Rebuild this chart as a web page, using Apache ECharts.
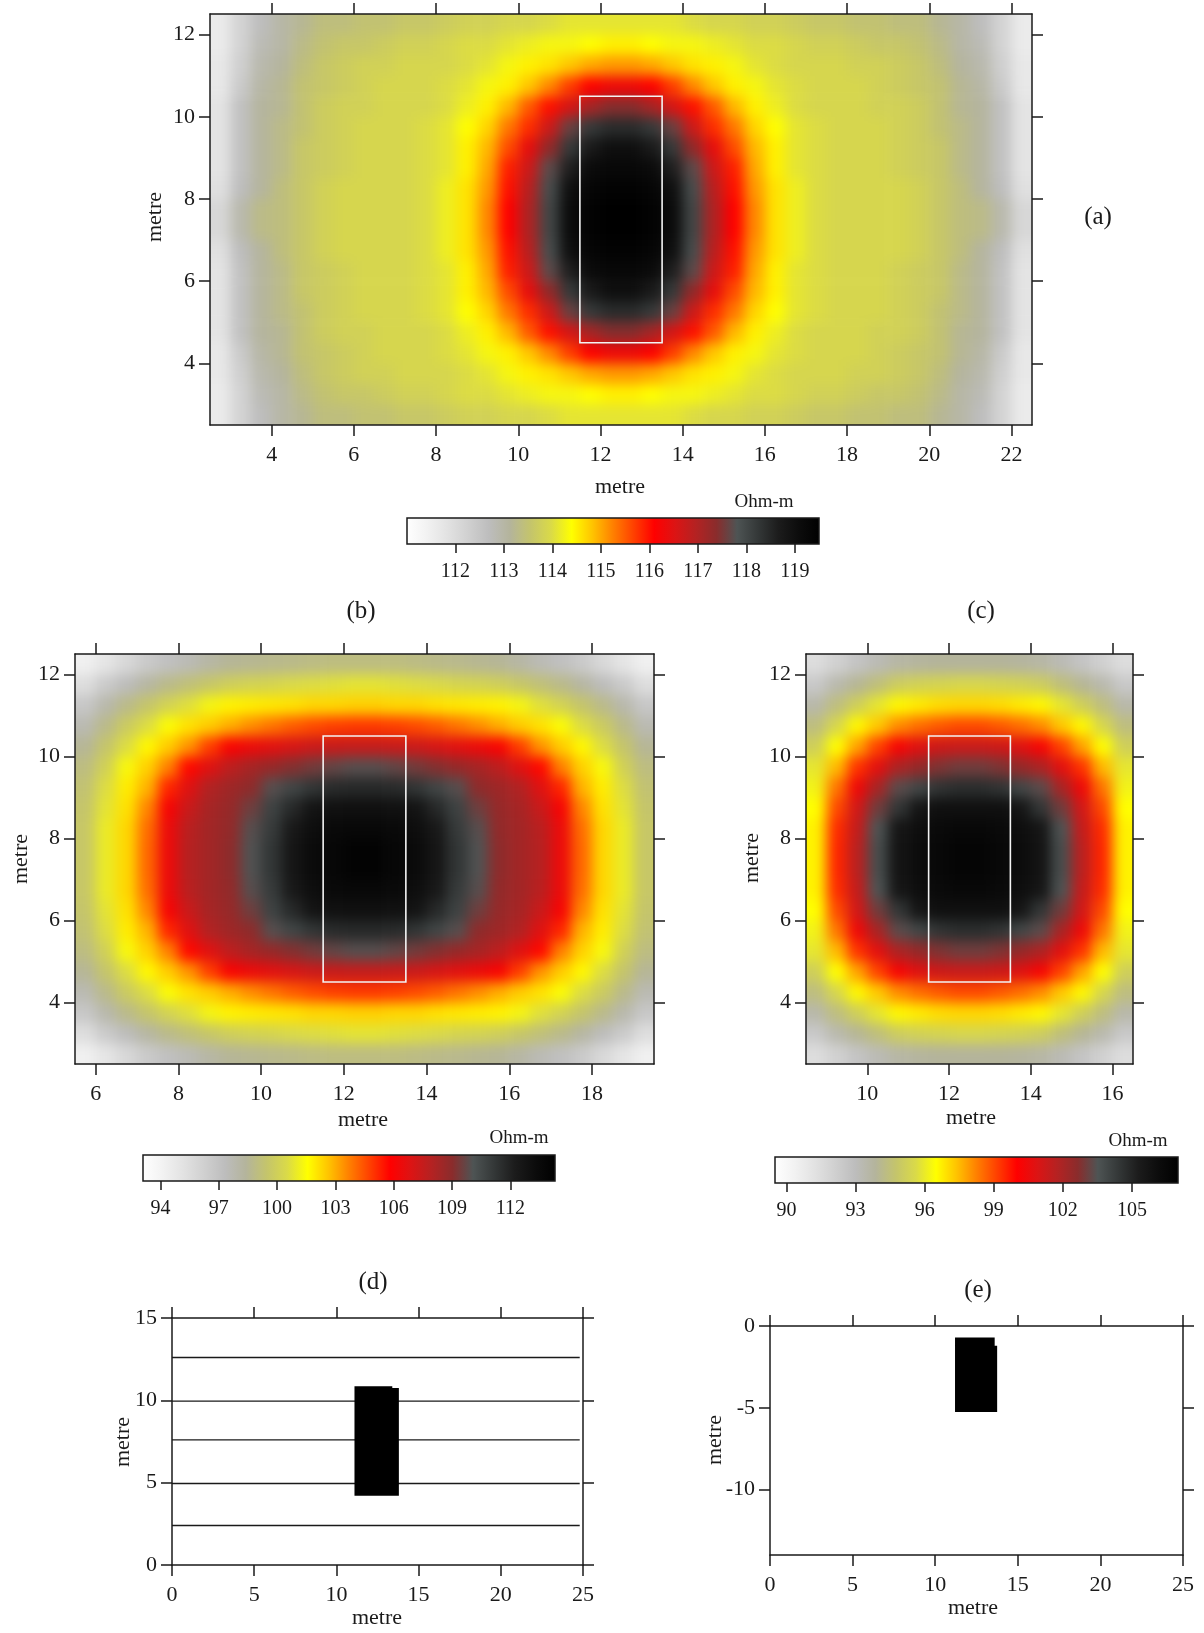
<!DOCTYPE html>
<html><head><meta charset="utf-8">
<script src="https://cdn.jsdelivr.net/npm/echarts@6/dist/echarts.min.js"></script>
<style>html,body{margin:0;padding:0;background:#fff}#c{width:1204px;height:1633px}</style>
</head><body><div id="c"></div>
<script>
// ---------------- data ----------------
// cell-centre positions (metre)
const aX = [2.75,3.25,3.75,4.25,4.75,5.25,5.75,6.25,6.75,7.25,7.75,8.25,8.75,9.25,9.75,10.25,10.75,11.25,11.75,12.25,12.75,13.25,13.75,14.25,14.75,15.25,15.75,16.25,16.75,17.25,17.75,18.25,18.75,19.25,19.75,20.25,20.75,21.25,21.75,22.25];
const bX = [5.75,6.25,6.75,7.25,7.75,8.25,8.75,9.25,9.75,10.25,10.75,11.25,11.75,12.25,12.75,13.25,13.75,14.25,14.75,15.25,15.75,16.25,16.75,17.25,17.75,18.25,18.75,19.25];
const cX = [8.75,9.25,9.75,10.25,10.75,11.25,11.75,12.25,12.75,13.25,13.75,14.25,14.75,15.25,15.75,16.25];
const mapY = [12.25,11.75,11.25,10.75,10.25,9.75,9.25,8.75,8.25,7.75,7.25,6.75,6.25,5.75,5.25,4.75,4.25,3.75,3.25,2.75];

// apparent resistivity (Ohm-m), rows from top (y=12.25) to bottom (y=2.75)
const aRows = [
[111.6,112.2,112.7,113.0,113.2,113.4,113.4,113.5,113.5,113.6,113.6,113.7,113.8,113.8,113.9,113.9,114.0,114.1,114.1,114.1,114.1,114.1,114.1,114.0,113.9,113.9,113.8,113.8,113.7,113.6,113.6,113.5,113.5,113.4,113.4,113.2,113.0,112.7,112.2,111.6],
[111.6,112.2,112.8,113.0,113.3,113.5,113.6,113.6,113.7,113.8,113.8,113.9,114.0,114.0,114.1,114.2,114.3,114.3,114.4,114.5,114.5,114.4,114.3,114.3,114.2,114.1,114.0,114.0,113.9,113.8,113.8,113.7,113.6,113.6,113.5,113.3,113.0,112.8,112.2,111.6],
[111.7,112.3,112.9,113.1,113.4,113.6,113.7,113.8,113.8,113.9,113.9,113.9,114.0,114.1,114.3,114.5,114.6,114.8,115.0,115.1,115.1,115.0,114.8,114.6,114.5,114.3,114.1,114.0,113.9,113.9,113.9,113.8,113.8,113.7,113.6,113.4,113.1,112.9,112.3,111.7],
[111.7,112.4,113.0,113.2,113.5,113.6,113.7,113.8,113.9,113.9,113.9,114.0,114.1,114.3,114.5,114.8,115.2,115.7,116.1,116.3,116.3,116.1,115.7,115.2,114.8,114.5,114.3,114.1,114.0,113.9,113.9,113.9,113.8,113.7,113.6,113.5,113.2,113.0,112.4,111.7],
[111.8,112.6,113.1,113.2,113.5,113.7,113.8,113.8,113.9,113.9,113.9,114.0,114.2,114.5,114.9,115.5,116.0,116.6,117.1,117.4,117.4,117.1,116.6,116.0,115.5,114.9,114.5,114.2,114.0,113.9,113.9,113.9,113.8,113.8,113.7,113.5,113.2,113.1,112.6,111.8],
[111.8,112.6,113.1,113.3,113.5,113.7,113.8,113.9,113.9,113.9,114.0,114.1,114.4,114.7,115.3,115.8,116.7,117.6,118.2,118.4,118.4,118.2,117.6,116.7,115.8,115.3,114.7,114.4,114.1,114.0,113.9,113.9,113.9,113.8,113.7,113.5,113.3,113.1,112.6,111.8],
[111.8,112.6,113.1,113.3,113.6,113.7,113.8,113.9,113.9,113.9,114.0,114.1,114.5,114.9,115.6,116.4,117.3,118.2,118.7,119.0,119.0,118.7,118.2,117.3,116.4,115.6,114.9,114.5,114.1,114.0,113.9,113.9,113.9,113.8,113.7,113.6,113.3,113.1,112.6,111.8],
[111.8,112.6,113.1,113.3,113.6,113.7,113.8,113.9,113.9,113.9,114.0,114.1,114.5,115.0,115.9,116.7,117.7,118.6,119.1,119.2,119.2,119.1,118.6,117.7,116.7,115.9,115.0,114.5,114.1,114.0,113.9,113.9,113.9,113.8,113.7,113.6,113.3,113.1,112.6,111.8],
[111.9,112.7,113.1,113.4,113.6,113.8,113.9,113.9,113.9,113.9,114.0,114.2,114.6,115.1,116.0,116.9,117.9,119.0,119.3,119.4,119.4,119.3,119.0,117.9,116.9,116.0,115.1,114.6,114.2,114.0,113.9,113.9,113.9,113.9,113.8,113.6,113.4,113.1,112.7,111.9],
[112.1,112.9,113.3,113.4,113.6,113.8,113.9,113.9,113.9,113.9,114.0,114.2,114.6,115.2,116.1,117.0,118.0,119.1,119.4,119.5,119.5,119.4,119.1,118.0,117.0,116.1,115.2,114.6,114.2,114.0,113.9,113.9,113.9,113.9,113.8,113.6,113.4,113.3,112.9,112.1],
[112.1,112.9,113.3,113.4,113.6,113.8,113.9,113.9,113.9,113.9,114.0,114.2,114.6,115.2,116.1,117.0,118.0,119.1,119.4,119.5,119.5,119.4,119.1,118.0,117.0,116.1,115.2,114.6,114.2,114.0,113.9,113.9,113.9,113.9,113.8,113.6,113.4,113.3,112.9,112.1],
[111.9,112.7,113.1,113.4,113.6,113.8,113.9,113.9,113.9,113.9,114.0,114.2,114.6,115.1,116.0,116.9,117.9,119.0,119.3,119.4,119.4,119.3,119.0,117.9,116.9,116.0,115.1,114.6,114.2,114.0,113.9,113.9,113.9,113.9,113.8,113.6,113.4,113.1,112.7,111.9],
[111.8,112.6,113.1,113.3,113.6,113.7,113.8,113.9,113.9,113.9,114.0,114.1,114.5,115.0,115.9,116.7,117.7,118.6,119.1,119.2,119.2,119.1,118.6,117.7,116.7,115.9,115.0,114.5,114.1,114.0,113.9,113.9,113.9,113.8,113.7,113.6,113.3,113.1,112.6,111.8],
[111.8,112.6,113.1,113.3,113.6,113.7,113.8,113.9,113.9,113.9,114.0,114.1,114.5,114.9,115.6,116.4,117.3,118.2,118.7,119.0,119.0,118.7,118.2,117.3,116.4,115.6,114.9,114.5,114.1,114.0,113.9,113.9,113.9,113.8,113.7,113.6,113.3,113.1,112.6,111.8],
[111.8,112.6,113.1,113.3,113.5,113.7,113.8,113.9,113.9,113.9,114.0,114.1,114.4,114.7,115.3,115.8,116.7,117.6,118.2,118.4,118.4,118.2,117.6,116.7,115.8,115.3,114.7,114.4,114.1,114.0,113.9,113.9,113.9,113.8,113.7,113.5,113.3,113.1,112.6,111.8],
[111.8,112.6,113.1,113.2,113.5,113.7,113.8,113.8,113.9,113.9,113.9,114.0,114.2,114.5,114.9,115.5,116.0,116.6,117.1,117.4,117.4,117.1,116.6,116.0,115.5,114.9,114.5,114.2,114.0,113.9,113.9,113.9,113.8,113.8,113.7,113.5,113.2,113.1,112.6,111.8],
[111.7,112.4,113.0,113.2,113.5,113.6,113.7,113.8,113.9,113.9,113.9,114.0,114.1,114.3,114.5,114.8,115.2,115.7,116.1,116.3,116.3,116.1,115.7,115.2,114.8,114.5,114.3,114.1,114.0,113.9,113.9,113.9,113.8,113.7,113.6,113.5,113.2,113.0,112.4,111.7],
[111.7,112.3,112.9,113.1,113.4,113.6,113.7,113.8,113.8,113.9,113.9,113.9,114.0,114.1,114.3,114.5,114.6,114.8,115.0,115.1,115.1,115.0,114.8,114.6,114.5,114.3,114.1,114.0,113.9,113.9,113.9,113.8,113.8,113.7,113.6,113.4,113.1,112.9,112.3,111.7],
[111.6,112.2,112.8,113.0,113.3,113.5,113.6,113.6,113.7,113.8,113.8,113.9,114.0,114.0,114.1,114.2,114.3,114.3,114.4,114.5,114.5,114.4,114.3,114.3,114.2,114.1,114.0,114.0,113.9,113.8,113.8,113.7,113.6,113.6,113.5,113.3,113.0,112.8,112.2,111.6],
[111.6,112.2,112.7,113.0,113.2,113.4,113.4,113.5,113.5,113.6,113.6,113.7,113.8,113.8,113.9,113.9,114.0,114.1,114.1,114.1,114.1,114.1,114.1,114.0,113.9,113.9,113.8,113.8,113.7,113.6,113.6,113.5,113.5,113.4,113.4,113.2,113.0,112.7,112.2,111.6]
];
const bRows = [
[94.3,95.0,95.8,96.6,97.2,97.6,98.1,98.5,98.6,98.7,98.8,98.9,99.0,99.0,99.0,99.0,98.9,98.8,98.7,98.6,98.5,98.1,97.6,97.2,96.6,95.8,95.0,94.3],
[95.5,96.6,97.4,98.2,98.8,99.2,99.6,100.0,100.2,100.3,100.5,100.6,100.7,100.8,100.8,100.7,100.6,100.5,100.3,100.2,100.0,99.6,99.2,98.8,98.2,97.4,96.6,95.5],
[96.8,97.9,98.8,99.5,100.2,100.7,101.3,101.8,101.9,102.0,102.1,102.3,102.3,102.4,102.4,102.3,102.3,102.1,102.0,101.9,101.8,101.3,100.7,100.2,99.5,98.8,97.9,96.8],
[97.7,98.8,99.8,100.6,101.5,102.1,102.5,103.0,103.5,103.9,104.3,104.6,104.8,104.9,104.9,104.8,104.6,104.3,103.9,103.5,103.0,102.5,102.1,101.5,100.6,99.8,98.8,97.7],
[98.5,99.5,100.6,101.7,102.5,103.4,104.8,106.0,106.4,106.7,107.0,107.3,107.4,107.5,107.5,107.4,107.3,107.0,106.7,106.4,106.0,104.8,103.4,102.5,101.7,100.6,99.5,98.5],
[99.0,100.1,101.4,102.4,103.7,105.7,106.8,107.7,108.3,108.7,109.1,109.4,109.7,109.9,109.9,109.7,109.4,109.1,108.7,108.3,107.7,106.8,105.7,103.7,102.4,101.4,100.1,99.0],
[99.3,100.6,101.9,102.9,105.2,106.8,108.0,108.5,108.9,109.9,110.6,111.2,111.6,111.7,111.7,111.6,111.2,110.6,109.9,108.9,108.5,108.0,106.8,105.2,102.9,101.9,100.6,99.3],
[99.5,100.8,102.1,103.6,106.1,107.4,108.3,108.7,109.5,110.7,111.7,112.7,112.9,113.0,113.0,112.9,112.7,111.7,110.7,109.5,108.7,108.3,107.4,106.1,103.6,102.1,100.8,99.5],
[99.6,101.0,102.3,104.0,106.4,107.8,108.4,108.8,109.9,111.0,112.4,113.1,113.5,113.6,113.6,113.5,113.1,112.4,111.0,109.9,108.8,108.4,107.8,106.4,104.0,102.3,101.0,99.6],
[99.6,101.0,102.3,104.1,106.4,107.9,108.4,108.9,110.0,111.2,112.6,113.3,113.7,114.0,114.0,113.7,113.3,112.6,111.2,110.0,108.9,108.4,107.9,106.4,104.1,102.3,101.0,99.6],
[99.6,101.0,102.3,104.1,106.4,107.9,108.4,108.9,110.0,111.2,112.6,113.3,113.7,114.0,114.0,113.7,113.3,112.6,111.2,110.0,108.9,108.4,107.9,106.4,104.1,102.3,101.0,99.6],
[99.6,101.0,102.3,104.0,106.4,107.8,108.4,108.8,109.9,111.0,112.4,113.1,113.5,113.6,113.6,113.5,113.1,112.4,111.0,109.9,108.8,108.4,107.8,106.4,104.0,102.3,101.0,99.6],
[99.5,100.8,102.1,103.6,106.1,107.4,108.3,108.7,109.5,110.7,111.7,112.7,112.9,113.0,113.0,112.9,112.7,111.7,110.7,109.5,108.7,108.3,107.4,106.1,103.6,102.1,100.8,99.5],
[99.3,100.6,101.9,102.9,105.2,106.8,108.0,108.5,108.9,109.9,110.6,111.2,111.6,111.7,111.7,111.6,111.2,110.6,109.9,108.9,108.5,108.0,106.8,105.2,102.9,101.9,100.6,99.3],
[99.0,100.1,101.4,102.4,103.7,105.7,106.8,107.7,108.3,108.7,109.1,109.4,109.7,109.9,109.9,109.7,109.4,109.1,108.7,108.3,107.7,106.8,105.7,103.7,102.4,101.4,100.1,99.0],
[98.5,99.5,100.6,101.7,102.5,103.4,104.8,106.0,106.4,106.7,107.0,107.3,107.4,107.5,107.5,107.4,107.3,107.0,106.7,106.4,106.0,104.8,103.4,102.5,101.7,100.6,99.5,98.5],
[97.7,98.8,99.8,100.6,101.5,102.1,102.5,103.0,103.5,103.9,104.3,104.6,104.8,104.9,104.9,104.8,104.6,104.3,103.9,103.5,103.0,102.5,102.1,101.5,100.6,99.8,98.8,97.7],
[96.8,97.9,98.8,99.5,100.2,100.7,101.3,101.8,101.9,102.0,102.1,102.3,102.3,102.4,102.4,102.3,102.3,102.1,102.0,101.9,101.8,101.3,100.7,100.2,99.5,98.8,97.9,96.8],
[95.5,96.6,97.4,98.2,98.8,99.2,99.6,100.0,100.2,100.3,100.5,100.6,100.7,100.8,100.8,100.7,100.6,100.5,100.3,100.2,100.0,99.6,99.2,98.8,98.2,97.4,96.6,95.5],
[94.3,95.0,95.8,96.6,97.2,97.6,98.1,98.5,98.6,98.7,98.8,98.9,99.0,99.0,99.0,99.0,98.9,98.8,98.7,98.6,98.5,98.1,97.6,97.2,96.6,95.8,95.0,94.3]
];
const cRows = [
[91.5,92.1,92.7,93.2,93.6,93.8,93.9,93.9,93.9,93.9,93.8,93.6,93.2,92.7,92.1,91.5],
[92.5,93.4,94.0,94.5,95.1,95.3,95.4,95.5,95.5,95.4,95.3,95.1,94.5,94.0,93.4,92.5],
[93.5,94.4,95.2,95.9,96.6,96.8,97.0,97.1,97.1,97.0,96.8,96.6,95.9,95.2,94.4,93.5],
[94.4,95.5,96.6,97.3,98.1,98.5,98.8,99.0,99.0,98.8,98.5,98.1,97.3,96.6,95.5,94.4],
[95.2,96.5,97.8,99.1,100.2,100.8,101.2,101.3,101.3,101.2,100.8,100.2,99.1,97.8,96.5,95.2],
[95.9,97.5,99.3,100.7,101.9,102.4,102.8,103.0,103.0,102.8,102.4,101.9,100.7,99.3,97.5,95.9],
[96.2,98.4,100.4,102.0,103.3,103.9,104.5,104.7,104.7,104.5,103.9,103.3,102.0,100.4,98.4,96.2],
[96.5,99.0,101.1,103.0,104.4,105.6,105.9,105.9,105.9,105.9,105.6,104.4,103.0,101.1,99.0,96.5],
[96.7,99.4,101.4,103.5,105.6,106.0,106.3,106.4,106.4,106.3,106.0,105.6,103.5,101.4,99.4,96.7],
[96.7,99.5,101.6,103.7,105.7,106.1,106.4,106.6,106.6,106.4,106.1,105.7,103.7,101.6,99.5,96.7],
[96.7,99.5,101.6,103.7,105.7,106.1,106.4,106.6,106.6,106.4,106.1,105.7,103.7,101.6,99.5,96.7],
[96.7,99.4,101.4,103.5,105.6,106.0,106.3,106.4,106.4,106.3,106.0,105.6,103.5,101.4,99.4,96.7],
[96.5,99.0,101.1,103.0,104.4,105.6,105.9,105.9,105.9,105.9,105.6,104.4,103.0,101.1,99.0,96.5],
[96.2,98.4,100.4,102.0,103.3,103.9,104.5,104.7,104.7,104.5,103.9,103.3,102.0,100.4,98.4,96.2],
[95.9,97.5,99.3,100.7,101.9,102.4,102.8,103.0,103.0,102.8,102.4,101.9,100.7,99.3,97.5,95.9],
[95.2,96.5,97.8,99.1,100.2,100.8,101.2,101.3,101.3,101.2,100.8,100.2,99.1,97.8,96.5,95.2],
[94.4,95.5,96.6,97.3,98.1,98.5,98.8,99.0,99.0,98.8,98.5,98.1,97.3,96.6,95.5,94.4],
[93.5,94.4,95.2,95.9,96.6,96.8,97.0,97.1,97.1,97.0,96.8,96.6,95.9,95.2,94.4,93.5],
[92.5,93.4,94.0,94.5,95.1,95.3,95.4,95.5,95.5,95.4,95.3,95.1,94.5,94.0,93.4,92.5],
[91.5,92.1,92.7,93.2,93.6,93.8,93.9,93.9,93.9,93.9,93.8,93.6,93.2,92.7,92.1,91.5]
];
// colour-scale ranges and tick labels
const aRange = [111.0, 119.5], bRange = [93.1, 114.3], cRange = [89.5, 107.0];
const aBarTicks = [112,113,114,115,116,117,118,119];
const bBarTicks = [94,97,100,103,106,109,112];
const cBarTicks = [90,93,96,99,102,105];
const aXTicks = [4,6,8,10,12,14,16,18,20,22];
const bXTicks = [6,8,10,12,14,16,18];
const cXTicks = [10,12,14,16];
const mapYTicks = [4,6,8,10,12];
const eYTicks = [-10,-5,0];
// buried target outline (x0, y0, x1, y1)
const targetBox = [11.5, 4.5, 13.5, 10.5];
// panel (d): survey lines and body
const dLineY = [2.4, 4.95, 7.6, 9.95, 12.6];
const dLineX = [0, 24.8];
const dBody = [[11.1,4.2],[13.8,4.2],[13.8,10.75],[13.4,10.75],[13.4,10.85],[11.1,10.85]];
// panel (e): section body
const eBody = [[11.2,-0.7],[13.6,-0.7],[13.6,-1.2],[13.75,-1.2],[13.75,-5.25],[11.2,-5.25]];

// ---------------- style ----------------
const FONT = '"Liberation Serif","DejaVu Serif",serif';
const INK = '#1a1a1a';
const CMAP = ['#ffffff','#f2f2f2','#e2e2e2','#d0d0d0','#bdbdbd','#b4b49c','#c4c46c','#dada48','#ffff00','#ffc400','#ff8000','#ff4000','#ff0000','#dc1414','#b42222','#8a2c2c','#4e5454','#343838','#1c1c1c','#0c0c0c','#000000'];
const grad = {type:'linear', x:0, y:0, x2:1, y2:0, colorStops: CMAP.map((c,i)=>({offset:i/(CMAP.length-1), color:c}))};

function cells(rows, xs){ const out=[]; rows.forEach((row,j)=>row.forEach((v,i)=>out.push([xs[i], mapY[j], v]))); return out; }
function vax(g,pos,min,max,ticks,lab,interval,zl){
  const a = {type:'value', gridIndex:g, position:pos, min:min, max:max, z:10, zlevel:zl||0,
    axisLine:{show:true, onZero:false, lineStyle:{color:INK,width:1.5}},
    axisTick:{show:true, inside:false, length:11, lineStyle:{color:INK,width:1.5}},
    axisLabel:{show:lab, fontFamily:FONT, fontSize:22, color:INK, margin:(pos==='bottom'?19:15)},
    splitLine:{show:false}};
  if (ticks){ a.axisTick.customValues = ticks; a.axisLabel.customValues = ticks; }
  if (interval) a.interval = interval;
  return a;
}
function barAxis(g, range, ticks){
  return {type:'value', gridIndex:g, position:'bottom', min:range[0], max:range[1], z:10,
    axisLine:{show:false},
    axisTick:{show:true, length:9, customValues:ticks, lineStyle:{color:INK,width:1.5}},
    axisLabel:{show:true, customValues:ticks, fontFamily:FONT, fontSize:20, color:INK, margin:18},
    splitLine:{show:false}};
}
// resistivity cells: drawn through the axes, coloured by visualMap; border cells bleed outward (clipped later)
function field(xi, xs, rows){
  return {type:'custom', xAxisIndex:xi, yAxisIndex:xi, zlevel:1, z:2, silent:true, clip:false,
    data: cells(rows, xs),
    renderItem:(p, api)=>{
      const x = api.value(0), y = api.value(1);
      const c = api.coord([x, y]), s = api.size([0.5, 0.5]);
      let x0 = c[0]-s[0]/2, x1 = c[0]+s[0]/2, y0 = c[1]-s[1]/2, y1 = c[1]+s[1]/2;
      const E = 20;
      if (x === xs[0]) x0 -= E;
      if (x === xs[xs.length-1]) x1 += E;
      if (y === mapY[0]) y0 -= E;
      if (y === mapY[mapY.length-1]) y1 += E;
      return {type:'rect', shape:{x:x0, y:y0, width:x1-x0+0.6, height:y1-y0+0.6},
        style:{fill: api.visual('color'), stroke:null}};
    }};
}
function box(xi){
  return {type:'custom', xAxisIndex:xi, yAxisIndex:xi, zlevel:2, z:5, silent:true, data:[targetBox],
    renderItem:(p, api)=>{
      const a = api.coord([api.value(0), api.value(3)]), b = api.coord([api.value(2), api.value(1)]);
      return {type:'rect', shape:{x:a[0], y:a[1], width:b[0]-a[0], height:b[1]-a[1]},
        style:{fill:'none', stroke:'#f4f4f4', lineWidth:1.6}};
    }};
}
function poly(xi, pts){
  return {type:'custom', xAxisIndex:xi, yAxisIndex:xi, z:6, silent:true, data:pts,
    renderItem:(p, api)=> p.dataIndex===0 ?
      {type:'polygon', shape:{points: pts.map(q=>api.coord(q))}, style:{fill:'#000'}} : null};
}
function T(text, x, y, size, vertical){
  return {type:'text', x:x, y:y, rotation: vertical ? Math.PI/2 : 0, z:20,
    style:{text:text, x:0, y:0, align:'center', verticalAlign:'middle', font: size+'px '+FONT, fill:INK}};
}

const chart = echarts.init(document.getElementById('c'), null, {renderer:'canvas'});
chart.setOption({
  animation:false,
  backgroundColor:'#ffffff',
  textStyle:{fontFamily:FONT},
  grid:[
    {left:210, top:14, width:822, height:411},
    {left:75, top:654, width:579, height:410},
    {left:806, top:654, width:327, height:410},
    {left:407, top:518, width:412, height:26, show:true, backgroundColor:grad, borderColor:INK, borderWidth:1.5},
    {left:143, top:1155, width:412, height:26, show:true, backgroundColor:grad, borderColor:INK, borderWidth:1.5},
    {left:775, top:1157, width:403, height:26, show:true, backgroundColor:grad, borderColor:INK, borderWidth:1.5},
    {left:172, top:1318, width:411, height:247},
    {left:770, top:1326, width:413, height:229}
  ],
  xAxis:[
    vax(0,'bottom',2.5,22.5,aXTicks,true,null,2),
    vax(0,'top',2.5,22.5,aXTicks,false,null,2),
    vax(1,'bottom',5.5,19.5,bXTicks,true,null,2),
    vax(1,'top',5.5,19.5,bXTicks,false,null,2),
    vax(2,'bottom',8.5,16.5,cXTicks,true,null,2),
    vax(2,'top',8.5,16.5,cXTicks,false,null,2),
    barAxis(3, aRange, aBarTicks),
    barAxis(4, bRange, bBarTicks),
    barAxis(5, cRange, cBarTicks),
    vax(6,'bottom',0,25,null,true,5),
    vax(6,'top',0,25,null,false,5),
    vax(7,'bottom',0,25,null,true,5),
    vax(7,'top',0,25,null,false,5)
  ],
  yAxis:[
    vax(0,'left',2.5,12.5,mapYTicks,true,null,2),
    vax(0,'right',2.5,12.5,mapYTicks,false,null,2),
    vax(1,'left',2.5,12.5,mapYTicks,true,null,2),
    vax(1,'right',2.5,12.5,mapYTicks,false,null,2),
    vax(2,'left',2.5,12.5,mapYTicks,true,null,2),
    vax(2,'right',2.5,12.5,mapYTicks,false,null,2),
    {type:'value', gridIndex:3, show:false, min:0, max:1},
    {type:'value', gridIndex:4, show:false, min:0, max:1},
    {type:'value', gridIndex:5, show:false, min:0, max:1},
    vax(6,'left',0,15,null,true,5),
    vax(6,'right',0,15,null,false,5),
    vax(7,'left',-14,0,eYTicks,true),
    vax(7,'right',-14,0,eYTicks,false)
  ],
  visualMap:[
    {type:'continuous', show:false, seriesIndex:0, dimension:2, min:aRange[0], max:aRange[1], inRange:{color:CMAP}},
    {type:'continuous', show:false, seriesIndex:1, dimension:2, min:bRange[0], max:bRange[1], inRange:{color:CMAP}},
    {type:'continuous', show:false, seriesIndex:2, dimension:2, min:cRange[0], max:cRange[1], inRange:{color:CMAP}}
  ],
  series:[
    field(0, aX, aRows),
    field(2, bX, bRows),
    field(4, cX, cRows),
    box(0), box(2), box(4),
    {type:'custom', xAxisIndex:9, yAxisIndex:9, z:4, silent:true,
      data: dLineY.map(y=>[dLineX[0], y, dLineX[1]]),
      renderItem:(p, api)=>{
        const a = api.coord([api.value(0), api.value(1)]), b = api.coord([api.value(2), api.value(1)]);
        return {type:'line', shape:{x1:a[0], y1:a[1], x2:b[0], y2:b[1]}, style:{stroke:INK, lineWidth:1.4}};
      }},
    poly(9, dBody),
    poly(11, eBody)
  ],
  graphic:[
    T('(a)', 1098, 217, 25),
    T('metre', 155, 217, 22, true),
    T('metre', 620, 487, 22),
    T('Ohm-m', 764, 502, 19),
    T('(b)', 361, 611, 25),
    T('(c)', 981, 611, 25),
    T('metre', 21, 859, 22, true),
    T('metre', 752, 858, 22, true),
    T('metre', 363, 1120, 22),
    T('metre', 971, 1118, 22),
    T('Ohm-m', 519, 1138, 19),
    T('Ohm-m', 1138, 1141, 19),
    T('(d)', 373, 1282, 25),
    T('(e)', 978, 1290, 25),
    T('metre', 123, 1442, 22, true),
    T('metre', 377, 1618, 22),
    T('metre', 715, 1440, 22, true),
    T('metre', 973, 1608, 22)
  ]
});

// soften the gridded field layer (as the contouring software did) and keep it inside the map frames
function softenField(){
  const cv = document.querySelector('#c canvas[data-zr-dom-id="zr_1"]');
  if (!cv) return;
  cv.style.filter = 'blur(6.5px)';
  cv.style.clipPath = 'path("M210 14H1032V425H210Z M75 654H654V1064H75Z M806 654H1133V1064H806Z")';
}
try { chart.getZr().flush(); } catch(e) {}
softenField();
chart.on('finished', softenField);
setTimeout(softenField, 50);
</script></body></html>
